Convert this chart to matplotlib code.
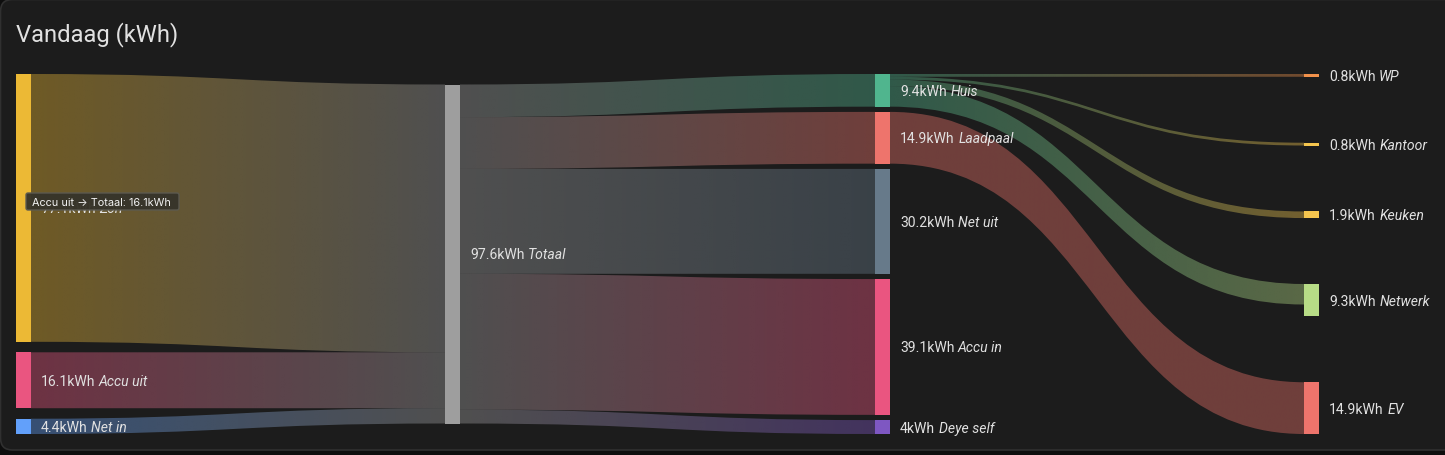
import numpy as np
import matplotlib
matplotlib.use("Agg")
import matplotlib.pyplot as plt
from matplotlib.path import Path
from matplotlib.patches import PathPatch, FancyBboxPatch, Rectangle
from matplotlib.colors import to_rgb

# ---------------- data ----------------
title = "Vandaag (kWh)"
col1_names = ["Zon", "Accu uit", "Net in"]
col1_values = [77.1, 16.1, 4.4]
col1_colors = ["#ecb935", "#ea5580", "#62a0fa"]

total_name = "Totaal"
total_value = 97.6
total_color = "#9e9e9e"

col3_names = ["Huis", "Laadpaal", "Net uit", "Accu in", "Deye self"]
col3_values = [9.4, 14.9, 30.2, 39.1, 4.0]
col3_colors = ["#50b58e", "#ee746c", "#677a8a", "#ea5580", "#7e57c2"]

col4_names = ["WP", "Kantoor", "Keuken", "Netwerk", "EV"]
col4_values = [0.8, 0.8, 1.9, 9.3, 14.9]
col4_colors = ["#f1914b", "#f5c54e", "#f5c54e", "#b7dc86", "#ee746c"]

link34_src = ["Huis", "Huis", "Huis", "Huis", "Laadpaal"]
link34_tgt = ["WP", "Kantoor", "Keuken", "Netwerk", "EV"]
link34_val = [0.8, 0.8, 1.9, 5.9, 14.9]

tooltip_text = "Accu uit \u2192 Totaal: 16.1kWh"

# ---------------- style / layout ----------------
W, H = 1445, 456
BG_OUT = "#0e0e0e"
CARD = "#1c1c1c"
TXT = "#e1e1e1"
col_x = [16, 445, 875, 1304]
node_w = 15
top, bottom = 75, 435
min_gap = 5.25
LINK_ALPHA = 0.4
FONT = ["Roboto", "DejaVu Sans"]
LABEL_FS = 10.1

fig = plt.figure(figsize=(W / 100, H / 100), dpi=100, facecolor=BG_OUT)
ax = fig.add_axes([0, 0, 1, 1])
ax.set_xlim(0, W)
ax.set_ylim(H, 0)
ax.axis("off")

card = FancyBboxPatch((0.5, 0.5), W + 30, 450.5, boxstyle="round,pad=0,rounding_size=12",
                      facecolor=CARD, edgecolor="#303030", linewidth=1.2, zorder=0)
ax.add_patch(card)

ax.text(16, 35, title, color=TXT, fontsize=17.1, family=FONT, va="center", ha="left")

avail = bottom - top
columns = [
    (col1_names, col1_values, col1_colors),
    ([total_name], [total_value], [total_color]),
    (col3_names, col3_values, col3_colors),
    (col4_names, col4_values, col4_colors),
]
scale = min((avail - (len(v) - 1) * min_gap) / sum(v) for _, v, _ in columns)

nodes = {}
for ci, (names, vals, cols) in enumerate(columns):
    tot = sum(vals) * scale
    if len(vals) > 1:
        gap = (avail - tot) / (len(vals) - 1)
        y = top
    else:
        gap = 0
        y = top + (avail - tot) / 2
    for n, v, c in zip(names, vals, cols):
        h = v * scale
        nodes[(ci, n)] = dict(x=col_x[ci], y0=y, y1=y + h, color=c, value=v, out=y, inn=y)
        y += h + gap


def draw_link(src, tgt, val):
    h = val * scale
    x0 = src["x"] + node_w
    x1 = tgt["x"]
    s0 = src["out"]; src["out"] += h
    t0 = tgt["inn"]; tgt["inn"] += h
    xm = (x0 + x1) / 2
    verts = [(x0, s0), (xm, s0), (xm, t0), (x1, t0),
             (x1, t0 + h), (xm, t0 + h), (xm, s0 + h), (x0, s0 + h), (x0, s0)]
    codes = [Path.MOVETO, Path.CURVE4, Path.CURVE4, Path.CURVE4,
             Path.LINETO, Path.CURVE4, Path.CURVE4, Path.CURVE4, Path.CLOSEPOLY]
    patch = PathPatch(Path(verts, codes), facecolor="none", edgecolor="none")
    ax.add_patch(patch)
    c0 = np.array(to_rgb(src["color"]))
    c1 = np.array(to_rgb(tgt["color"]))
    n = 256
    t = np.linspace(0, 1, n)[:, None]
    rgb = c0 * (1 - t) + c1 * t
    img = np.concatenate([rgb, np.full((n, 1), LINK_ALPHA)], axis=1)[None, :, :]
    ymin = min(s0, t0) - 1
    ymax = max(s0, t0) + h + 1
    im = ax.imshow(img, extent=[x0, x1, ymax, ymin], aspect="auto",
                   interpolation="bilinear", zorder=1)
    im.set_clip_path(patch)


tot_node = nodes[(1, total_name)]
for n in col1_names:
    draw_link(nodes[(0, n)], tot_node, nodes[(0, n)]["value"])
for n in col3_names:
    draw_link(tot_node, nodes[(2, n)], nodes[(2, n)]["value"])
for s, t_, v in zip(link34_src, link34_tgt, link34_val):
    draw_link(nodes[(2, s)], nodes[(3, t_)], v)

for (ci, n), nd in nodes.items():
    ax.add_patch(Rectangle((nd["x"], nd["y0"]), node_w, nd["y1"] - nd["y0"],
                           facecolor=nd["color"], edgecolor="none", zorder=3))

fig.canvas.draw()
renderer = fig.canvas.get_renderer()
for (ci, n), nd in nodes.items():
    yc = (nd["y0"] + nd["y1"]) / 2 + 0.5
    xl = nd["x"] + node_w + 10
    t1 = ax.text(xl, yc, f"{nd['value']:g}kWh", color=TXT, fontsize=LABEL_FS, family=FONT,
                 va="center", ha="left", zorder=4)
    bb = t1.get_window_extent(renderer)
    ax.text(bb.x1 + 3.5, yc, n, color=TXT, fontsize=LABEL_FS, family=FONT, style="italic",
            va="center", ha="left", zorder=4)

# tooltip (covers the label of the first node, as in the reference)
tip = FancyBboxPatch((26, 194), 153, 17, boxstyle="round,pad=0,rounding_size=2",
                     facecolor="#37342a", edgecolor="#5c5a50", linewidth=1.0, alpha=0.97, zorder=6)
ax.add_patch(tip)
ax.text(32, 202.8, tooltip_text, color="#f2f2f2", fontsize=7.85, family=["Inter", "DejaVu Sans"],
        va="center", ha="left", zorder=7)

ax.set_xlim(0, W)
ax.set_ylim(H, 0)
fig.savefig("out.png", dpi=100, facecolor=BG_OUT)
